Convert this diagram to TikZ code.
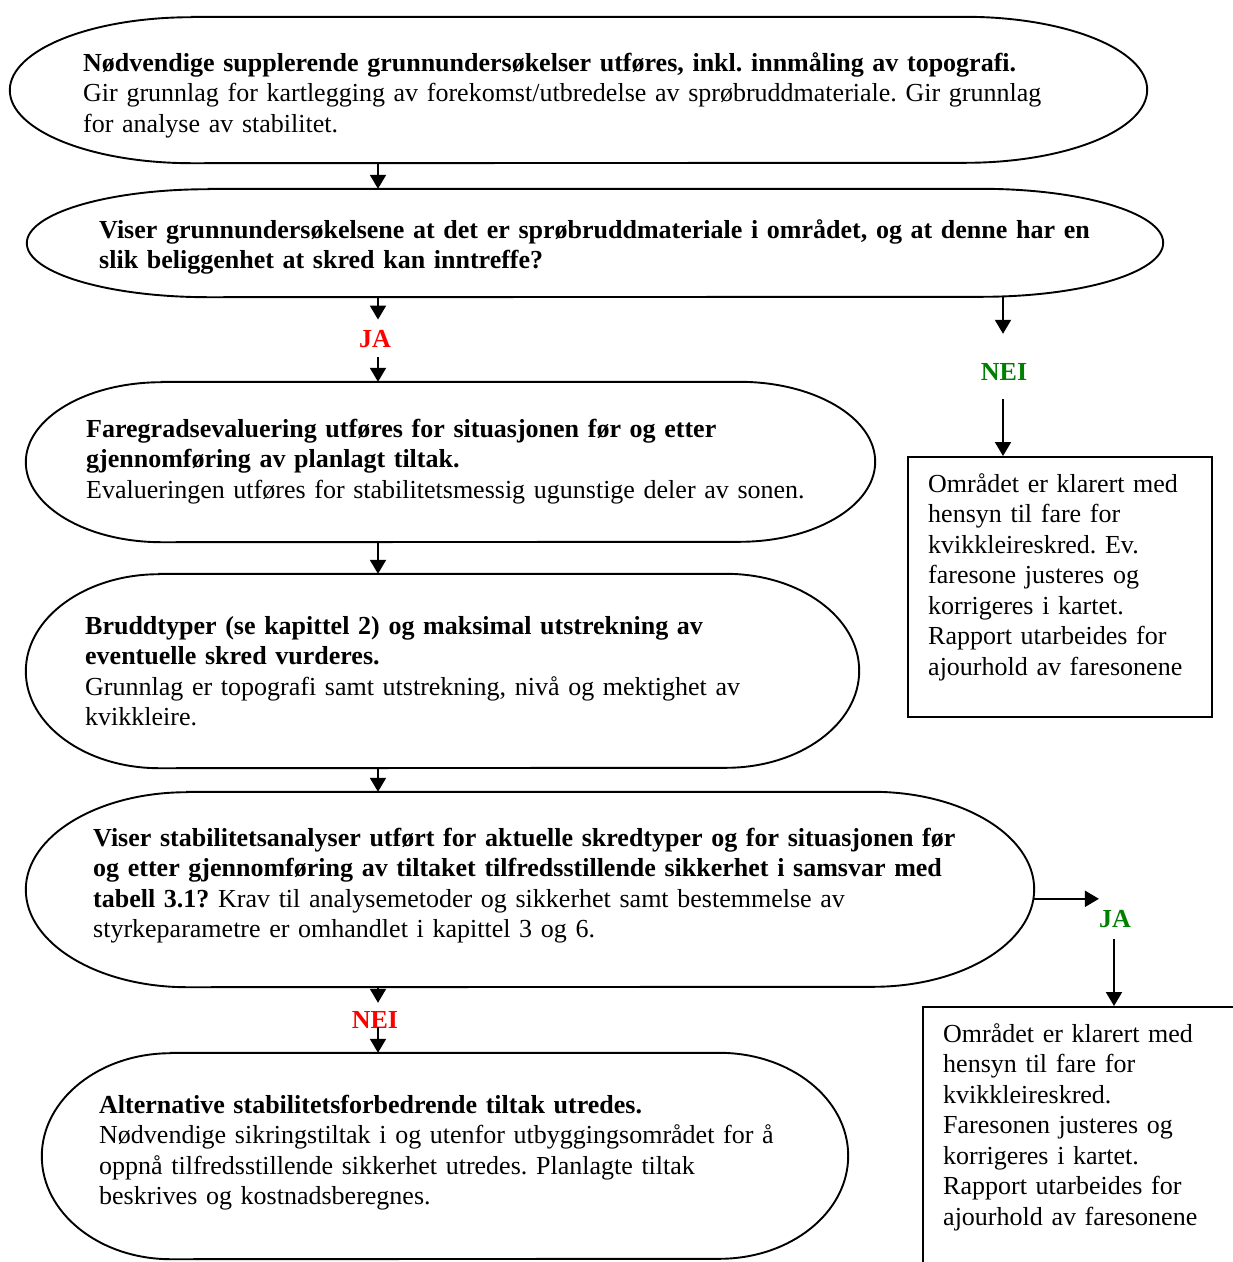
\documentclass[tikz,border=0pt]{standalone}
\usepackage{fontspec}
\setmainfont{Liberation Serif}
\usetikzlibrary{arrows.meta,calc}
\definecolor{jared}{RGB}{255,0,0}
\definecolor{neigreen}{RGB}{0,128,0}
\newcommand\termshape[5]{%
  \pgfmathsetmacro\tw{#4-#2}%
  \pgfmathsetmacro\th{#5-#3}%
  \pgfmathsetmacro\trx{0.16*\tw}%
  \pgfmathsetmacro\try{\th/2}%
  \node[termnode, minimum width=\tw pt, minimum height=\th pt] (#1) at ({(#2+#4)/2},{-(#3+#5)/2}) {};
  \draw[outline] ([xshift=\trx pt]#1.north west) -- ([xshift=-\trx pt]#1.north east)
    arc[start angle=90,end angle=-90,x radius=\trx pt,y radius=\try pt]
    -- ([xshift=\trx pt]#1.south west)
    arc[start angle=270,end angle=90,x radius=\trx pt,y radius=\try pt] -- cycle;
}
\newcommand\fl{\rule{0pt}{24pt}}
\begin{document}
\begin{tikzpicture}[x=1pt,y=1pt,
  termnode/.style={draw=none, inner sep=0pt, rectangle},
  outline/.style={draw=black, line width=1.9pt},
  boxnode/.style={draw=black, line width=1.9pt, inner sep=0pt, rectangle, anchor=north west},
  txt/.style={anchor=north west, inner sep=0pt, text width=1100pt, align=left,
    font=\fontsize{26}{30.5}\selectfont\frenchspacing},
  lab/.style={font=\fontsize{26}{30.5}\selectfont\bfseries, inner xsep=0pt,
    text height=17.5pt, text depth=0pt},
  arr/.style={line width=2pt, -{Triangle[length=14pt,width=16pt]}}]
\clip (0,0) rectangle (1233,-1262);
\fill[white] (0,0) rectangle (1233,-1262);
\coordinate (spine) at (378,0);
\coordinate (nx) at (1003,0);
\coordinate (jx) at (1114,0);

% terminator shapes
\termshape{s1}{10}{17}{1147}{163}
\termshape{s2}{27}{189}{1163}{297}
\termshape{s3}{26}{382}{875}{542}
\termshape{s4}{26}{574}{859}{768}
\termshape{s5}{26}{792}{1034}{987}
\termshape{s6}{42}{1053}{848}{1259}

% rectangular boxes
\node[boxnode, minimum width=304pt, minimum height=260pt] (b1) at (907,-456) {};
\node[boxnode, minimum width=340pt, minimum height=300pt] (b2) at (922,-1006) {};

% texts
\node[txt] (t1) at (83,-47) {\fl\textbf{Nødvendige supplerende grunnundersøkelser utføres, inkl. innmåling av topografi.}\\
Gir grunnlag for kartlegging av forekomst/utbredelse av sprøbruddmateriale. Gir grunnlag\\
for analyse av stabilitet.};
\node[txt] (t2) at (99,-214) {\fl\textbf{Viser grunnundersøkelsene at det er sprøbruddmateriale i området, og at denne har en}\\
\textbf{slik beliggenhet at skred kan inntreffe?}};
\node[txt] (t3) at (86,-413) {\fl\textbf{Faregradsevaluering utføres for situasjonen før og etter}\\
\textbf{gjennomføring av planlagt tiltak.}\\
Evalueringen utføres for stabilitetsmessig ugunstige deler av sonen.};
\node[txt] (t4) at (85,-610) {\fl\textbf{Bruddtyper (se kapittel 2) og maksimal utstrekning av}\\
\textbf{eventuelle skred vurderes.}\\
Grunnlag er topografi samt utstrekning, nivå og mektighet av\\
kvikkleire.};
\node[txt] (t5) at (93,-822) {\fl\textbf{Viser stabilitetsanalyser utført for aktuelle skredtyper og for situasjonen før}\\
\textbf{og etter gjennomføring av tiltaket tilfredsstillende sikkerhet i samsvar med}\\
\textbf{tabell 3.1?} Krav til analysemetoder og sikkerhet samt bestemmelse av\\
styrkeparametre er omhandlet i kapittel 3 og 6.};
\node[txt] (t6) at (99,-1089) {\fl\textbf{Alternative stabilitetsforbedrende tiltak utredes.}\\
Nødvendige sikringstiltak i og utenfor utbyggingsområdet for å\\
oppnå tilfredsstillende sikkerhet utredes. Planlagte tiltak\\
beskrives og kostnadsberegnes.};
\node[txt] (tb1) at (928,-468) {\fl Området er klarert med\\
hensyn til fare for\\
kvikkleireskred. Ev.\\
faresone justeres og\\
korrigeres i kartet.\\
Rapport utarbeides for\\
ajourhold av faresonene};
\node[txt] (tb2) at (943,-1018) {\fl Området er klarert med\\
hensyn til fare for\\
kvikkleireskred.\\
Faresonen justeres og\\
korrigeres i kartet.\\
Rapport utarbeides for\\
ajourhold av faresonene};

% labels
\node[lab, text=jared, inner ysep=10pt] (ja1) at (375,-338.5) {JA};
\node[lab, text=neigreen, inner ysep=18.75pt] (nei1) at (1004,-371.5) {NEI};
\node[lab, text=neigreen, inner ysep=11.25pt] (ja2) at (1115,-919) {JA};
\node[lab, text=jared, inner ysep=8.25pt] (nei2) at (375,-1020) {NEI};

% connectors
\draw[arr] (s1.south -| spine) -- (s2.north -| spine);
\draw[arr] (s2.south -| spine) -- (ja1.north -| spine);
\draw[arr] (ja1.south -| spine) -- (s3.north -| spine);
\draw[arr] (s3.south -| spine) -- (s4.north -| spine);
\draw[arr] (s4.south -| spine) -- (s5.north -| spine);
\draw[arr] (s5.south -| spine) -- (nei2.north -| spine);
\draw[arr] ([yshift=10pt]nei2.south -| spine) -- (s6.north -| spine);
\draw[arr] (s2.south -| nx) -- ([yshift=10pt]nei1.north -| nx);
\draw[arr] (nei1.south -| nx) -- (b1.north -| nx);
\draw[arr] (s5.east |- ja2.north) -- (ja2.north west);
\draw[arr] (ja2.south -| jx) -- (b2.north -| jx);
\end{tikzpicture}
\end{document}
